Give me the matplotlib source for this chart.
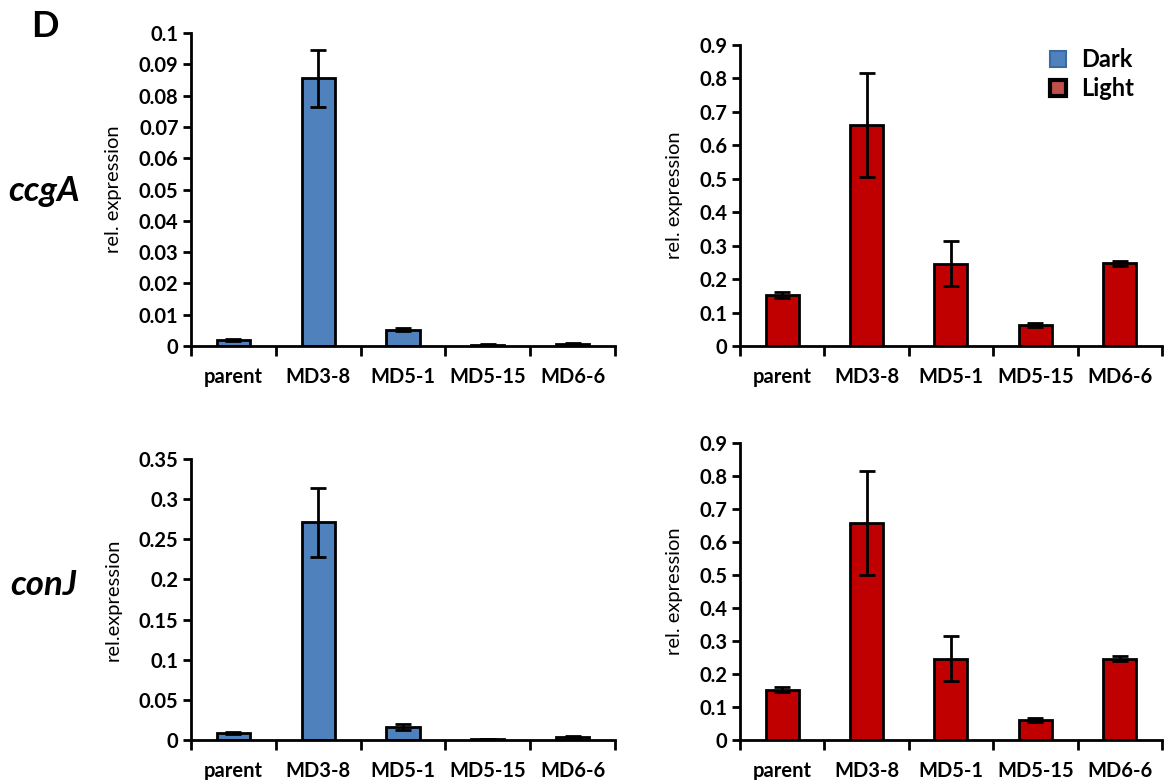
import matplotlib
matplotlib.use("Agg")
import matplotlib.pyplot as plt
import numpy as np
from matplotlib.lines import Line2D

plt.rcParams['font.family'] = ['Lato', 'DejaVu Sans']

categories = ["parent", "MD3-8", "MD5-1", "MD5-15", "MD6-6"]

ccgA_dark = [0.002, 0.0855, 0.0052, 0.0004, 0.0008]
ccgA_dark_err = [0.0003, 0.009, 0.0004, 0.0002, 0.0003]
ccgA_light = [0.152, 0.660, 0.246, 0.062, 0.247]
ccgA_light_err = [0.008, 0.155, 0.068, 0.006, 0.008]

conJ_dark = [0.009, 0.271, 0.016, 0.001, 0.004]
conJ_dark_err = [0.001, 0.043, 0.004, 0.0003, 0.0008]
conJ_light = [0.153, 0.658, 0.246, 0.062, 0.246]
conJ_light_err = [0.007, 0.157, 0.068, 0.006, 0.008]

dark_color = "#4F81BD"
light_color = "#C00000"

fig = plt.figure(figsize=(11.67, 7.8), dpi=100)

panels = [
    ([0.1637, 0.5564, 0.3633, 0.4013], ccgA_dark, ccgA_dark_err, dark_color, 0.1,
     ["0", "0.01", "0.02", "0.03", "0.04", "0.05", "0.06", "0.07", "0.08", "0.09", "0.1"], "rel. expression"),
    ([0.634, 0.5564, 0.3617, 0.3859], ccgA_light, ccgA_light_err, light_color, 0.9,
     ["0", "0.1", "0.2", "0.3", "0.4", "0.5", "0.6", "0.7", "0.8", "0.9"], "rel. expression"),
    ([0.1637, 0.0513, 0.3633, 0.3602], conJ_dark, conJ_dark_err, dark_color, 0.35,
     ["0", "0.05", "0.1", "0.15", "0.2", "0.25", "0.3", "0.35"], "rel.expression"),
    ([0.634, 0.0513, 0.3617, 0.3807], conJ_light, conJ_light_err, light_color, 0.9,
     ["0", "0.1", "0.2", "0.3", "0.4", "0.5", "0.6", "0.7", "0.8", "0.9"], "rel. expression"),
]

axes = []
for rect, vals, errs, col, ymax, ylabels, ylab in panels:
    ax = fig.add_axes(rect)
    x = np.arange(len(categories))
    ax.bar(x, vals, width=0.39, color=col, edgecolor="black", linewidth=2, zorder=2)
    ax.errorbar(x, vals, yerr=errs, fmt="none", ecolor="black", elinewidth=2,
                capsize=6, capthick=2, zorder=3)
    ax.set_xlim(-0.5, len(categories) - 0.5)
    ax.set_ylim(0, ymax)
    yt = np.linspace(0, ymax, len(ylabels))
    ax.set_yticks(yt)
    ax.set_yticklabels(ylabels, fontsize=14.5, fontweight="bold")
    ax.set_xticks(x)
    ax.set_xticklabels(categories, fontsize=14.5, fontweight="bold")
    ax.set_xticks(np.arange(-0.5, len(categories)), minor=True)
    ax.tick_params(axis="x", which="major", length=0, pad=15)
    ax.tick_params(axis="x", which="minor", length=7, width=2, direction="out")
    ax.tick_params(axis="y", which="major", length=6, width=2, direction="out", pad=3)
    for s in ["top", "right"]:
        ax.spines[s].set_visible(False)
    for s in ["left", "bottom"]:
        ax.spines[s].set_linewidth(2)
    ax.set_ylabel(ylab, fontsize=14.5, labelpad=12)
    ax.spines["bottom"].set_zorder(4)
    axes.append(ax)

handles = [
    Line2D([], [], marker="s", linestyle="none", markersize=12, markerfacecolor=dark_color,
           markeredgecolor="#3B6AA0", markeredgewidth=1.5, label="Dark"),
    Line2D([], [], marker="s", linestyle="none", markersize=12, markerfacecolor="#C0504D",
           markeredgecolor="black", markeredgewidth=3, label="Light"),
]
axes[1].legend(handles=handles, loc="upper right", bbox_to_anchor=(0.985, 1.06), frameon=False,
               prop={"weight": "bold", "size": 17}, handletextpad=0.4, labelspacing=0.25,
               handlelength=1.2)

fig.text(0.027, 0.966, "D", fontsize=26, fontweight="bold", va="center", ha="left")
fig.text(0.007, 0.755, "ccgA", fontsize=25, fontweight="bold", style="italic", va="center", ha="left")
fig.text(0.009, 0.25, "conJ", fontsize=25, fontweight="bold", style="italic", va="center", ha="left")

fig.savefig("out.png", dpi=100)
